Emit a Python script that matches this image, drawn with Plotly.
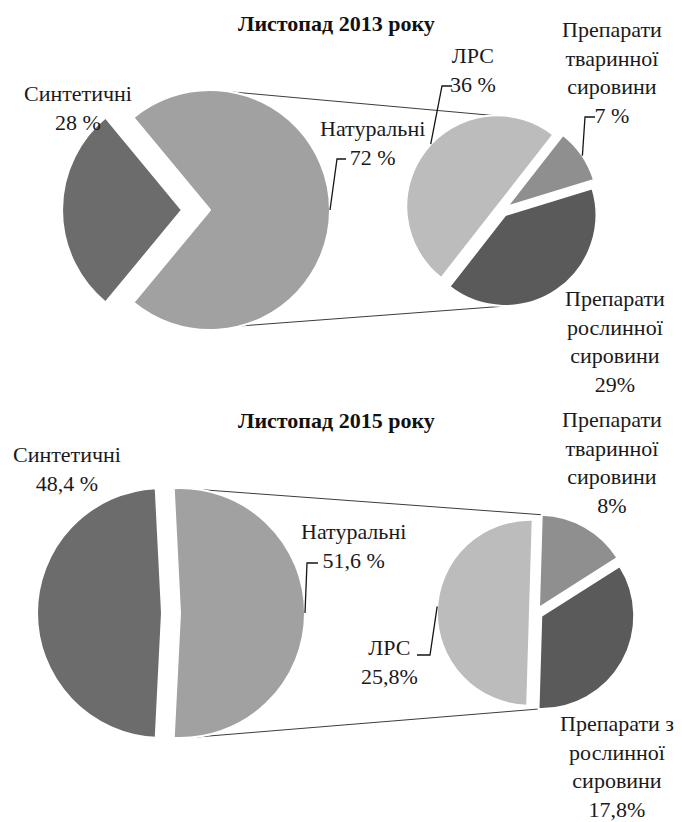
import math
import plotly.graph_objects as go

W, H = 682, 822
OFF = 8  # default body margin of the html page that holds the figure

# ---------------- data ----------------
titles = ["Листопад 2013 року", "Листопад 2015 року"]
main_names = ["Синтетичні", "Натуральні"]
main_2013 = [28, 72]
main_2015 = [48.4, 51.6]
sub_names_2013 = ["ЛРС", "Препарати<br>тваринної<br>сировини", "Препарати<br>рослинної<br>сировини"]
sub_names_2015 = ["ЛРС", "Препарати<br>тваринної<br>сировини", "Препарати з<br>рослинної<br>сировини"]
sub_2013 = [36, 7, 29]
sub_2015 = [25.8, 8, 17.8]
# spacing between number and % sign as printed in the source
main_sep_2013 = [" ", " "]
sub_sep_2013 = [" ", " ", ""]
main_sep_2015 = [" ", " "]
sub_sep_2015 = ["", "", ""]

main_colors = ["#6c6c6c", "#a1a1a1"]
sub_colors = ["#bcbcbc", "#8f8f8f", "#5a5a5a"]
FONT = "Liberation Serif, Times New Roman, serif"
FS = 22


def fmt(v, sep):
    s = ("%g" % v).replace(".", ",")
    return s + sep + "%"


# ---------------- layout / style per chart ----------------
charts = [
    dict(title=titles[0], title_pos=(336, 23),
         main=main_2013, main_sep=main_sep_2013, sub=sub_2013, sub_sep=sub_sep_2013, sub_names=sub_names_2013,
         mc=(210, 210), mr=120, mpull=[0.233, 0],
         sc=(502, 210), sr=91, spull=[0.066, 0.066, 0.066], sstart=218,
         conn_main=(10, 165), conn_sub=((0, 357), (2, 179)),
         main_lab=[(78, 108), (372, 143)], sub_lab=[(473, 70), (612, 72), (615, 341)],
         main_lead=[None, (90, (337, 159), (346, 159))],
         sub_lead=[(313, (442, 86), (452, 86)), (56, (585, 117), (595, 117)), None]),
    dict(title=titles[1], title_pos=(336, 420),
         main=main_2015, main_sep=main_sep_2015, sub=sub_2015, sub_sep=sub_sep_2015, sub_names=sub_names_2015,
         mc=(180, 613), mr=125, mpull=[0.144, 0],
         sc=(536, 613), sr=93, spull=[0.065, 0.065, 0.065], sstart=181.7,
         conn_main=(9, 174), conn_sub=((1, None), (2, None)),
         main_lab=[(67, 469), (353, 546)], sub_lab=[(390, 662), (612, 462), (617, 766)],
         main_lead=[None, (90, (307, 563), (318, 563))],
         sub_lead=[(274, (430, 655), (417, 655)), None, None]),
]


def px(x):
    return (x - OFF) / W


def py(y):
    return 1 - (y - OFF) / H


def geom(values, start, pulls, c, r):
    tot = sum(values)
    a = start
    out = []
    for v, p in zip(values, pulls):
        span = v / tot * 360
        mid = math.radians(a + span / 2)
        out.append(dict(start=a, end=a + span,
                        vx=c[0] + p * r * math.sin(mid), vy=c[1] - p * r * math.cos(mid), r=r))
        a += span
    return out


def arc(g, ang):
    t = math.radians(ang)
    return g["vx"] + g["r"] * math.sin(t), g["vy"] - g["r"] * math.cos(t)


def domain(c, r, pulls):
    s = r * (1 + max(pulls))
    return dict(x=[px(c[0] - s), px(c[0] + s)], y=[py(c[1] + s), py(c[1] - s)])


fig = go.Figure()
shapes = []
annotations = []

for ch in charts:
    mvals = ch["main"]
    mfrac = mvals[0] / sum(mvals)
    mrot = 270 - mfrac * 180
    fig.add_trace(go.Pie(
        values=mvals, labels=main_names, sort=False, direction="clockwise",
        rotation=((mrot + 180) % 360) - 180, pull=ch["mpull"],
        marker=dict(colors=main_colors, line=dict(color="white", width=2)),
        textinfo="none", hoverinfo="label+percent", showlegend=False,
        domain=domain(ch["mc"], ch["mr"], ch["mpull"])))
    sub_labels_plain = [n.replace("<br>", " ") for n in ch["sub_names"]]
    fig.add_trace(go.Pie(
        values=ch["sub"], labels=sub_labels_plain, sort=False, direction="clockwise",
        rotation=((ch["sstart"] + 180) % 360) - 180, pull=ch["spull"],
        marker=dict(colors=sub_colors, line=dict(color="white", width=2)),
        textinfo="none", hoverinfo="label+value", showlegend=False,
        domain=domain(ch["sc"], ch["sr"], ch["spull"])))

    mg = geom(mvals, mrot, ch["mpull"], ch["mc"], ch["mr"])
    sg = geom(ch["sub"], ch["sstart"], ch["spull"], ch["sc"], ch["sr"])

    # connector lines (main "Натуральні" slice -> secondary pie)
    (ti, ta), (bi, ba) = ch["conn_sub"]
    if ta is None:
        ta = sg[ti]["start"] + 0.5
    if ba is None:
        ba = sg[bi]["end"] - 0.5
    p1 = arc(mg[1], ch["conn_main"][0])
    p2 = arc(sg[ti], ta)
    q1 = arc(mg[1], ch["conn_main"][1])
    q2 = arc(sg[bi], ba)
    for a, b in ((p1, p2), (q1, q2)):
        shapes.append(dict(type="line", xref="paper", yref="paper", layer="below",
                           x0=px(a[0]), y0=py(a[1]), x1=px(b[0]), y1=py(b[1]),
                           line=dict(color="#3c3c3c", width=1)))

    # leader lines
    for g, lead in list(zip(mg, ch["main_lead"])) + list(zip(sg, ch["sub_lead"])):
        if lead is None:
            continue
        s = arc(g, lead[0])
        e1, e2 = lead[1], lead[2]
        path = "M %f %f L %f %f L %f %f" % (px(s[0]), py(s[1]), px(e1[0]), py(e1[1]), px(e2[0]), py(e2[1]))
        shapes.append(dict(type="path", xref="paper", yref="paper", path=path,
                           line=dict(color="#151515", width=1.3)))

    # title
    annotations.append(dict(text="<b>" + ch["title"] + "</b>", x=px(ch["title_pos"][0]), y=py(ch["title_pos"][1]),
                            xref="paper", yref="paper", showarrow=False, xanchor="center", yanchor="middle",
                            font=dict(family=FONT, size=FS, color="#111111")))
    # data labels
    for name, v, sep, pos in zip(main_names, mvals, ch["main_sep"], ch["main_lab"]):
        annotations.append(dict(text=name + "<br>" + fmt(v, sep), x=px(pos[0]), y=py(pos[1]),
                                xref="paper", yref="paper", showarrow=False, xanchor="center",
                                yanchor="middle", align="center",
                                font=dict(family=FONT, size=FS, color="#1a1a1a")))
    for name, v, sep, pos in zip(ch["sub_names"], ch["sub"], ch["sub_sep"], ch["sub_lab"]):
        annotations.append(dict(text=name + "<br>" + fmt(v, sep), x=px(pos[0]), y=py(pos[1]),
                                xref="paper", yref="paper", showarrow=False, xanchor="center",
                                yanchor="middle", align="center",
                                font=dict(family=FONT, size=FS, color="#1a1a1a")))

fig.update_layout(width=W, height=H, margin=dict(l=0, r=0, t=0, b=0),
                  paper_bgcolor="white", plot_bgcolor="white",
                  shapes=shapes, annotations=annotations, showlegend=False)

fig.write_html("out.html")
